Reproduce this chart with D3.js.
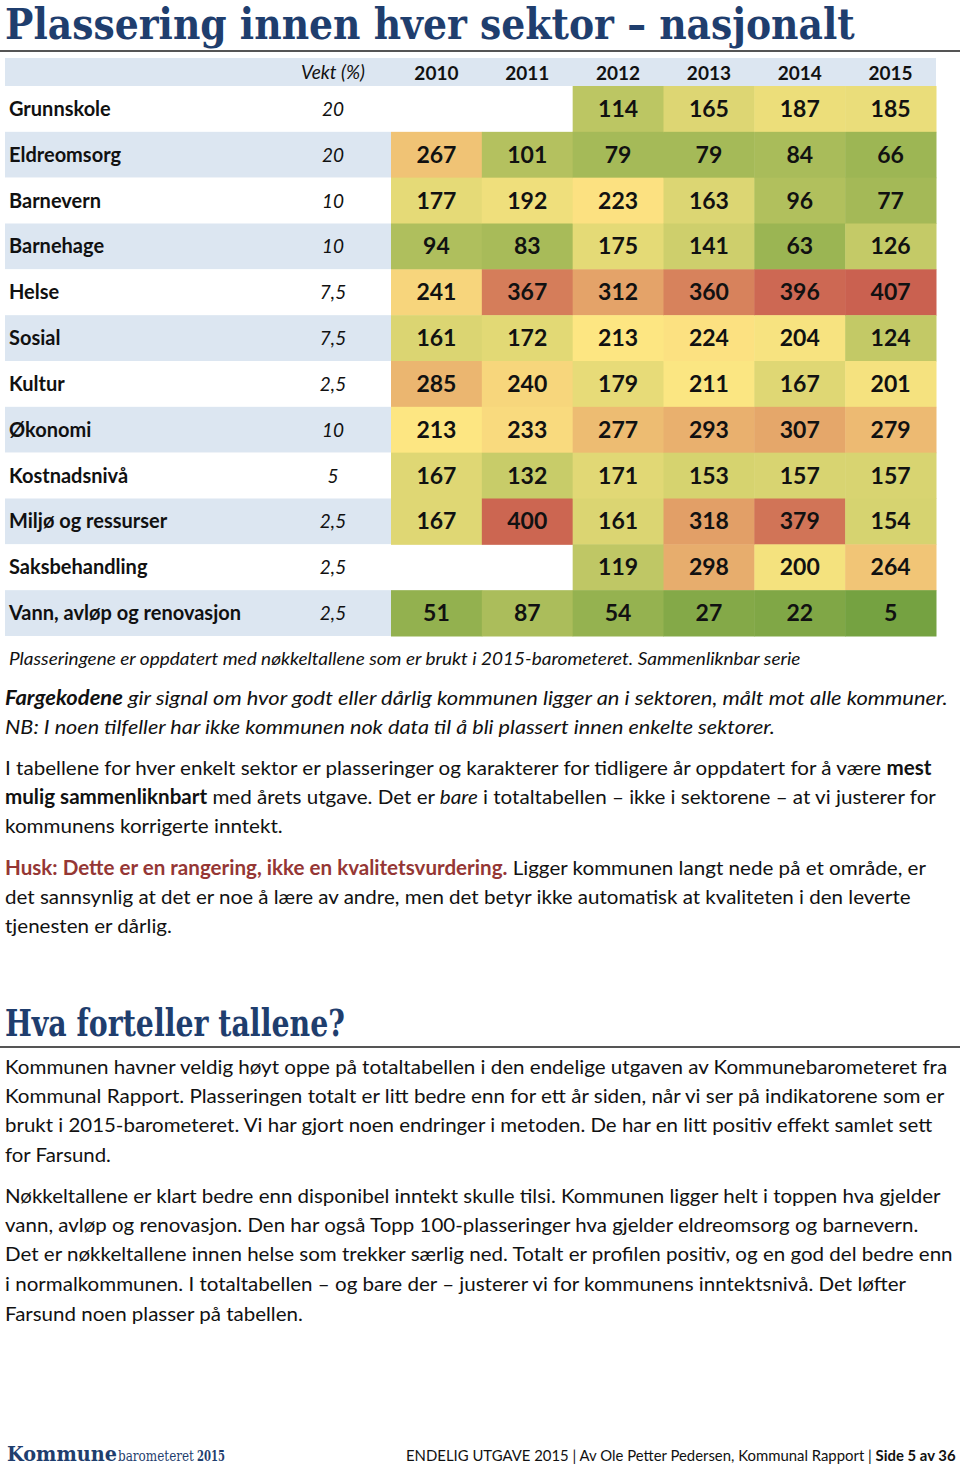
<!DOCTYPE html>
<html><head><meta charset="utf-8">
<script src="https://cdn.jsdelivr.net/npm/d3@7"></script>
<style>body{margin:0;background:#fff} svg{display:block}</style>
</head><body><svg id="c" width="960" height="1468"></svg>
<script>
// ---------- data ----------
const sectors = ["Grunnskole","Eldreomsorg","Barnevern","Barnehage","Helse","Sosial","Kultur","Økonomi","Kostnadsnivå","Miljø og ressurser","Saksbehandling","Vann, avløp og renovasjon"];
const weights = ["20","20","10","10","7,5","7,5","2,5","10","5","2,5","2,5","2,5"];
const years = ["2010","2011","2012","2013","2014","2015"];
const rank2010 = [null,267,177,94,241,161,285,213,167,167,null,51];
const rank2011 = [null,101,192,83,367,172,240,233,132,400,null,87];
const rank2012 = [114,79,223,175,312,213,179,277,171,161,119,54];
const rank2013 = [165,79,163,141,360,224,211,293,153,318,298,27];
const rank2014 = [187,84,96,63,396,204,167,307,157,379,200,22];
const rank2015 = [185,66,77,126,407,124,201,279,157,154,264,5];
const ranksByYear = [rank2010,rank2011,rank2012,rank2013,rank2014,rank2015];

// ---------- setup ----------
const svg = d3.select("#c");
const NAVY = "#1f3e6e";
const BODY = "Lato, 'Open Sans', sans-serif";
const SERIF = "'DejaVu Serif', serif";

function line(x0, yb, parts, target, size, family, opts) {
  opts = opts || {};
  const g = svg.append("g").attr("transform", `translate(${x0},${yb})`);
  const t = g.append("text").attr("x", 0).attr("y", 0)
    .attr("font-family", family || BODY).attr("font-size", size || 20)
    .attr("fill", opts.fill || "#111");
  if (opts.italic) t.attr("font-style", "italic");
  if (opts.bold) t.attr("font-weight", "bold");
  parts.forEach(p => {
    if (typeof p === "string") p = {t: p};
    const s = t.append("tspan").text(p.t);
    if (p.b) s.attr("font-weight", "bold");
    if (p.i) s.attr("font-style", "italic");
    if (p.c) s.attr("fill", p.c);
  });
  if (target) {
    const w = t.node().getComputedTextLength();
    g.attr("transform", `translate(${x0},${yb}) scale(${target / w},1)`);
  }
  return g;
}

// ---------- title ----------
line(5, 39, ["Plassering innen hver sektor – nasjonalt"], 850, 42, SERIF, {bold: true, fill: NAVY});
svg.append("rect").attr("x", 0).attr("y", 50).attr("width", 960).attr("height", 2).attr("fill", "#555");

// ---------- table ----------
const x = d3.scaleBand().domain(years).range([391, 936]);
const y = d3.scaleBand().domain(sectors).range([86, 636]);
const color = d3.scaleLinear().domain([0, 215, 428])
  .range(["#72a03f", "#fee783", "#c4524a"]).interpolate(d3.interpolateRgb);
const wx = 333;

svg.append("rect").attr("x", 5).attr("y", 58).attr("width", 931).attr("height", 28).attr("fill", "#dce6f1");
svg.append("text").attr("x", wx).attr("y", 79).attr("text-anchor", "middle")
  .attr("font-family", BODY).attr("font-style", "italic").attr("font-size", 19).attr("fill", "#111").text("Vekt (%)");
svg.selectAll("text.yr").data(years).enter().append("text").attr("class", "yr")
  .attr("x", d => x(d) + x.bandwidth() / 2).attr("y", 80).attr("text-anchor", "middle")
  .attr("font-family", BODY).attr("font-weight", "bold").attr("font-size", 19).attr("fill", "#111").text(d => d);

svg.selectAll("rect.rowbg").data(sectors).enter().append("rect").attr("class", "rowbg")
  .attr("x", 5).attr("y", d => y(d)).attr("width", 386).attr("height", y.bandwidth())
  .attr("fill", (d, i) => i % 2 === 1 ? "#dce6f1" : "#ffffff");

svg.selectAll("text.lab").data(sectors).enter().append("text").attr("class", "lab")
  .attr("x", 9).attr("y", d => y(d) + y.bandwidth() / 2 + 7)
  .attr("font-family", BODY).attr("font-weight", "bold").attr("font-size", 20).attr("fill", "#111").text(d => d);
svg.selectAll("text.wt").data(sectors).enter().append("text").attr("class", "wt")
  .attr("x", wx).attr("y", d => y(d) + y.bandwidth() / 2 + 7).attr("text-anchor", "middle")
  .attr("font-family", BODY).attr("font-style", "italic").attr("font-size", 19).attr("fill", "#111")
  .text((d, i) => weights[i]);

const cells = [];
years.forEach((yr, j) => sectors.forEach((s, i) => {
  const v = ranksByYear[j][i];
  if (v !== null) cells.push({yr, s, v});
}));
svg.selectAll("rect.cell").data(cells).enter().append("rect").attr("class", "cell")
  .attr("x", d => x(d.yr)).attr("y", d => y(d.s))
  .attr("width", x.bandwidth() + 0.5).attr("height", y.bandwidth() + 0.5)
  .attr("fill", d => color(d.v));
svg.selectAll("text.val").data(cells).enter().append("text").attr("class", "val")
  .attr("x", d => x(d.yr) + x.bandwidth() / 2).attr("y", d => y(d.s) + y.bandwidth() / 2 + 8)
  .attr("text-anchor", "middle").attr("font-family", BODY).attr("font-weight", "bold")
  .attr("font-size", 23).attr("fill", "#111").text(d => d.v);

// ---------- notes and paragraphs ----------
line(9, 665, ["Plasseringene er oppdatert med nøkkeltallene som er brukt i 2015-barometeret. Sammenliknbar serie"], 792, 17, BODY, {italic: true});

line(5, 705, [{t: "Fargekodene", b: true}, " gir signal om hvor godt eller dårlig kommunen ligger an i sektoren, målt mot alle kommuner."], 943, 20, BODY, {italic: true});
line(5, 734, ["NB: I noen tilfeller har ikke kommunen nok data til å bli plassert innen enkelte sektorer."], 770, 20, BODY, {italic: true});

line(5, 775, ["I tabellene for hver enkelt sektor er plasseringer og karakterer for tidligere år oppdatert for å være ", {t: "mest", b: true}], 927, 20);
line(5, 804, [{t: "mulig sammenliknbart", b: true}, " med årets utgave. Det er ", {t: "bare", i: true}, " i totaltabellen – ikke i sektorene – at vi justerer for"], 931, 20);
line(5, 833, ["kommunens korrigerte inntekt."], 278, 20);

line(5, 875, [{t: "Husk: Dette er en rangering, ikke en kvalitetsvurdering.", b: true, c: "#953735"}, " Ligger kommunen langt nede på et område, er"], 921, 20);
line(5, 904, ["det sannsynlig at det er noe å lære av andre, men det betyr ikke automatisk at kvaliteten i den leverte"], 906, 20);
line(5, 933, ["tjenesten er dårlig."], 167, 20);

// ---------- second heading ----------
line(5, 1036, ["Hva forteller tallene?"], 340, 38, SERIF, {bold: true, fill: NAVY});
svg.append("rect").attr("x", 0).attr("y", 1046).attr("width", 960).attr("height", 2).attr("fill", "#555");

line(5, 1074, ["Kommunen havner veldig høyt oppe på totaltabellen i den endelige utgaven av Kommunebarometeret fra"], 943, 20);
line(5, 1103, ["Kommunal Rapport. Plasseringen totalt er litt bedre enn for ett år siden, når vi ser på indikatorene som er"], 939, 20);
line(5, 1132, ["brukt i 2015-barometeret. Vi har gjort noen endringer i metoden. De har en litt positiv effekt samlet sett"], 928, 20);
line(5, 1162, ["for Farsund."], 106, 20);

line(5, 1203, ["Nøkkeltallene er klart bedre enn disponibel inntekt skulle tilsi. Kommunen ligger helt i toppen hva gjelder"], 936, 20);
line(5, 1232, ["vann, avløp og renovasjon. Den har også Topp 100-plasseringer hva gjelder eldreomsorg og barnevern."], 914, 20);
line(5, 1261, ["Det er nøkkeltallene innen helse som trekker særlig ned. Totalt er profilen positiv, og en god del bedre enn"], 948, 20);
line(5, 1291, ["i normalkommunen. I totaltabellen – og bare der – justerer vi for kommunens inntektsnivå. Det løfter"], 902, 20);
line(5, 1321, ["Farsund noen plasser på tabellen."], 298, 20);

// ---------- footer ----------
line(7, 1461, ["Kommune"], 110, 21, SERIF, {bold: true, fill: NAVY});
line(118, 1461, ["barometeret"], 76, 15, SERIF, {fill: NAVY});
line(197, 1461, ["2015"], 28, 14, SERIF, {bold: true, fill: NAVY});
line(406, 1461, ["ENDELIG UTGAVE 2015 | Av Ole Petter Pedersen, Kommunal Rapport | ", {t: "Side 5 av 36", b: true}], 550, 15);
</script>
</body></html>
